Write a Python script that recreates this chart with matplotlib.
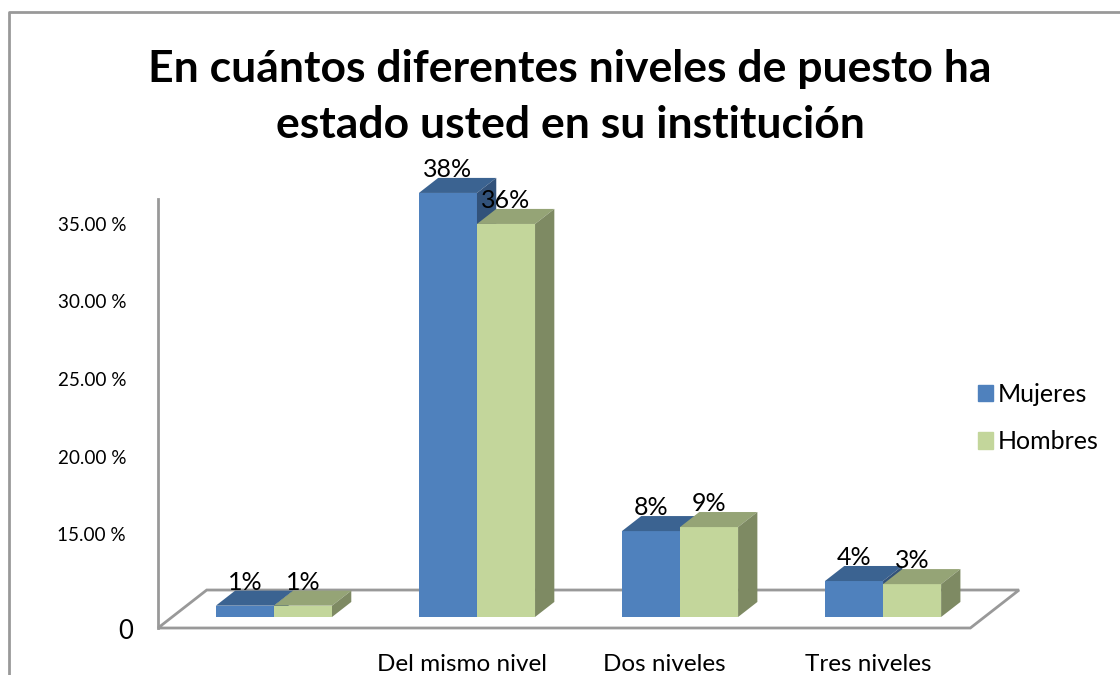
import matplotlib
matplotlib.use('Agg')
import matplotlib.pyplot as plt
from matplotlib.lines import Line2D
from matplotlib.patches import Patch
import numpy as np

categories = ['', 'Del mismo nivel', 'Dos niveles', 'Tres niveles']
mujeres = [10.38, 37.0, 15.19, 11.97]
hombres = [10.38, 35.0, 15.45, 11.77]
mujeres_labels = ['1%', '38%', '8%', '4%']
hombres_labels = ['1%', '36%', '9%', '3%']
tick_values = [15, 20, 25, 30, 35]
tick_labels = ['15.00 %', '20.00 %', '25.00 %', '30.00 %', '35.00 %']

BASE = 9.65
BAR_W = 0.286
DX = 0.095
DY = 0.97

plt.rcParams['font.family'] = ['Lato', 'DejaVu Sans']

fig = plt.figure(figsize=(11.2, 6.75), dpi=100)
ax = fig.add_axes([158 / 1120, 47 / 675, 962 / 1120, 429 / 675])
ax.set_xlim(-0.571, 4.167)
ax.set_ylim(8.94, 36.61)
ax.patch.set_alpha(0)

for name in ['top', 'right', 'bottom']:
    ax.spines[name].set_visible(False)
ax.spines['left'].set_color('#999999')
ax.spines['left'].set_linewidth(2)

# floor of the 3d plot
ymin = ax.get_ylim()[0]
ax.fill([-0.571, 3.43, 3.67, -0.331], [ymin, ymin, ymin + 2.45, ymin + 2.45],
        facecolor='white', edgecolor='#999999', linewidth=2, clip_on=False, zorder=1)


def draw_bar(x, h, front, top, side):
    ax.fill([x, x + BAR_W, x + BAR_W, x], [BASE, BASE, h, h], color=front, lw=0, clip_on=False, zorder=2)
    ax.fill([x, x + BAR_W, x + BAR_W + DX, x + DX], [h, h, h + DY, h + DY], color=top, lw=0, clip_on=False, zorder=2)
    ax.fill([x + BAR_W, x + BAR_W + DX, x + BAR_W + DX, x + BAR_W],
            [BASE, BASE + DY, h + DY, h], color=side, lw=0, clip_on=False, zorder=2)


for i in range(len(categories)):
    draw_bar(i - BAR_W, mujeres[i], '#4F81BD', '#3B6391', '#32527A')
    draw_bar(i, hombres[i], '#C3D69B', '#95A476', '#7E8A63')
    ax.text(i - BAR_W / 2, mujeres[i] + 1.5, mujeres_labels[i], ha='center', va='center',
            fontsize=18, color='black', zorder=5)
    ax.text(i + BAR_W / 2, hombres[i] + 1.5, hombres_labels[i], ha='center', va='center',
            fontsize=18, color='black', zorder=5)

ax.set_yticks(tick_values)
ax.set_yticklabels(tick_labels, fontsize=13.6)
ax.tick_params(axis='y', length=0, pad=23)

ax.set_xticks(np.arange(len(categories)) - 0.075)
ax.set_xticklabels(categories, fontsize=17.5)
ax.tick_params(axis='x', length=0, pad=19)

# the zero label is bigger than the others
ax.text(-0.571 - 25 / 203, ymin - 0.2, '0', ha='right', va='center', fontsize=18.5)

handles = [Patch(color='#4F81BD', label='Mujeres'), Patch(color='#C3D69B', label='Hombres')]
ax.legend(handles=handles, loc='center left', bbox_to_anchor=(955 / 1120, 1 - 418 / 675),
          bbox_transform=fig.transFigure, frameon=False, fontsize=18,
          handlelength=0.62, handleheight=0.62, handletextpad=0.2, labelspacing=0.98)

fig.text(570 / 1120, 1 - 97 / 675, 'En cuántos diferentes niveles de puesto ha\nestado usted en su institución',
         ha='center', va='center', fontsize=32, fontweight='bold', linespacing=1.47)

# chart frame, its right and bottom edges are cut off
fig.add_artist(Line2D([9 / 1120, 9 / 1120, 1], [0, 1 - 12 / 675, 1 - 12 / 675], color='#999999', lw=2))

fig.savefig('out.png', dpi=100)
